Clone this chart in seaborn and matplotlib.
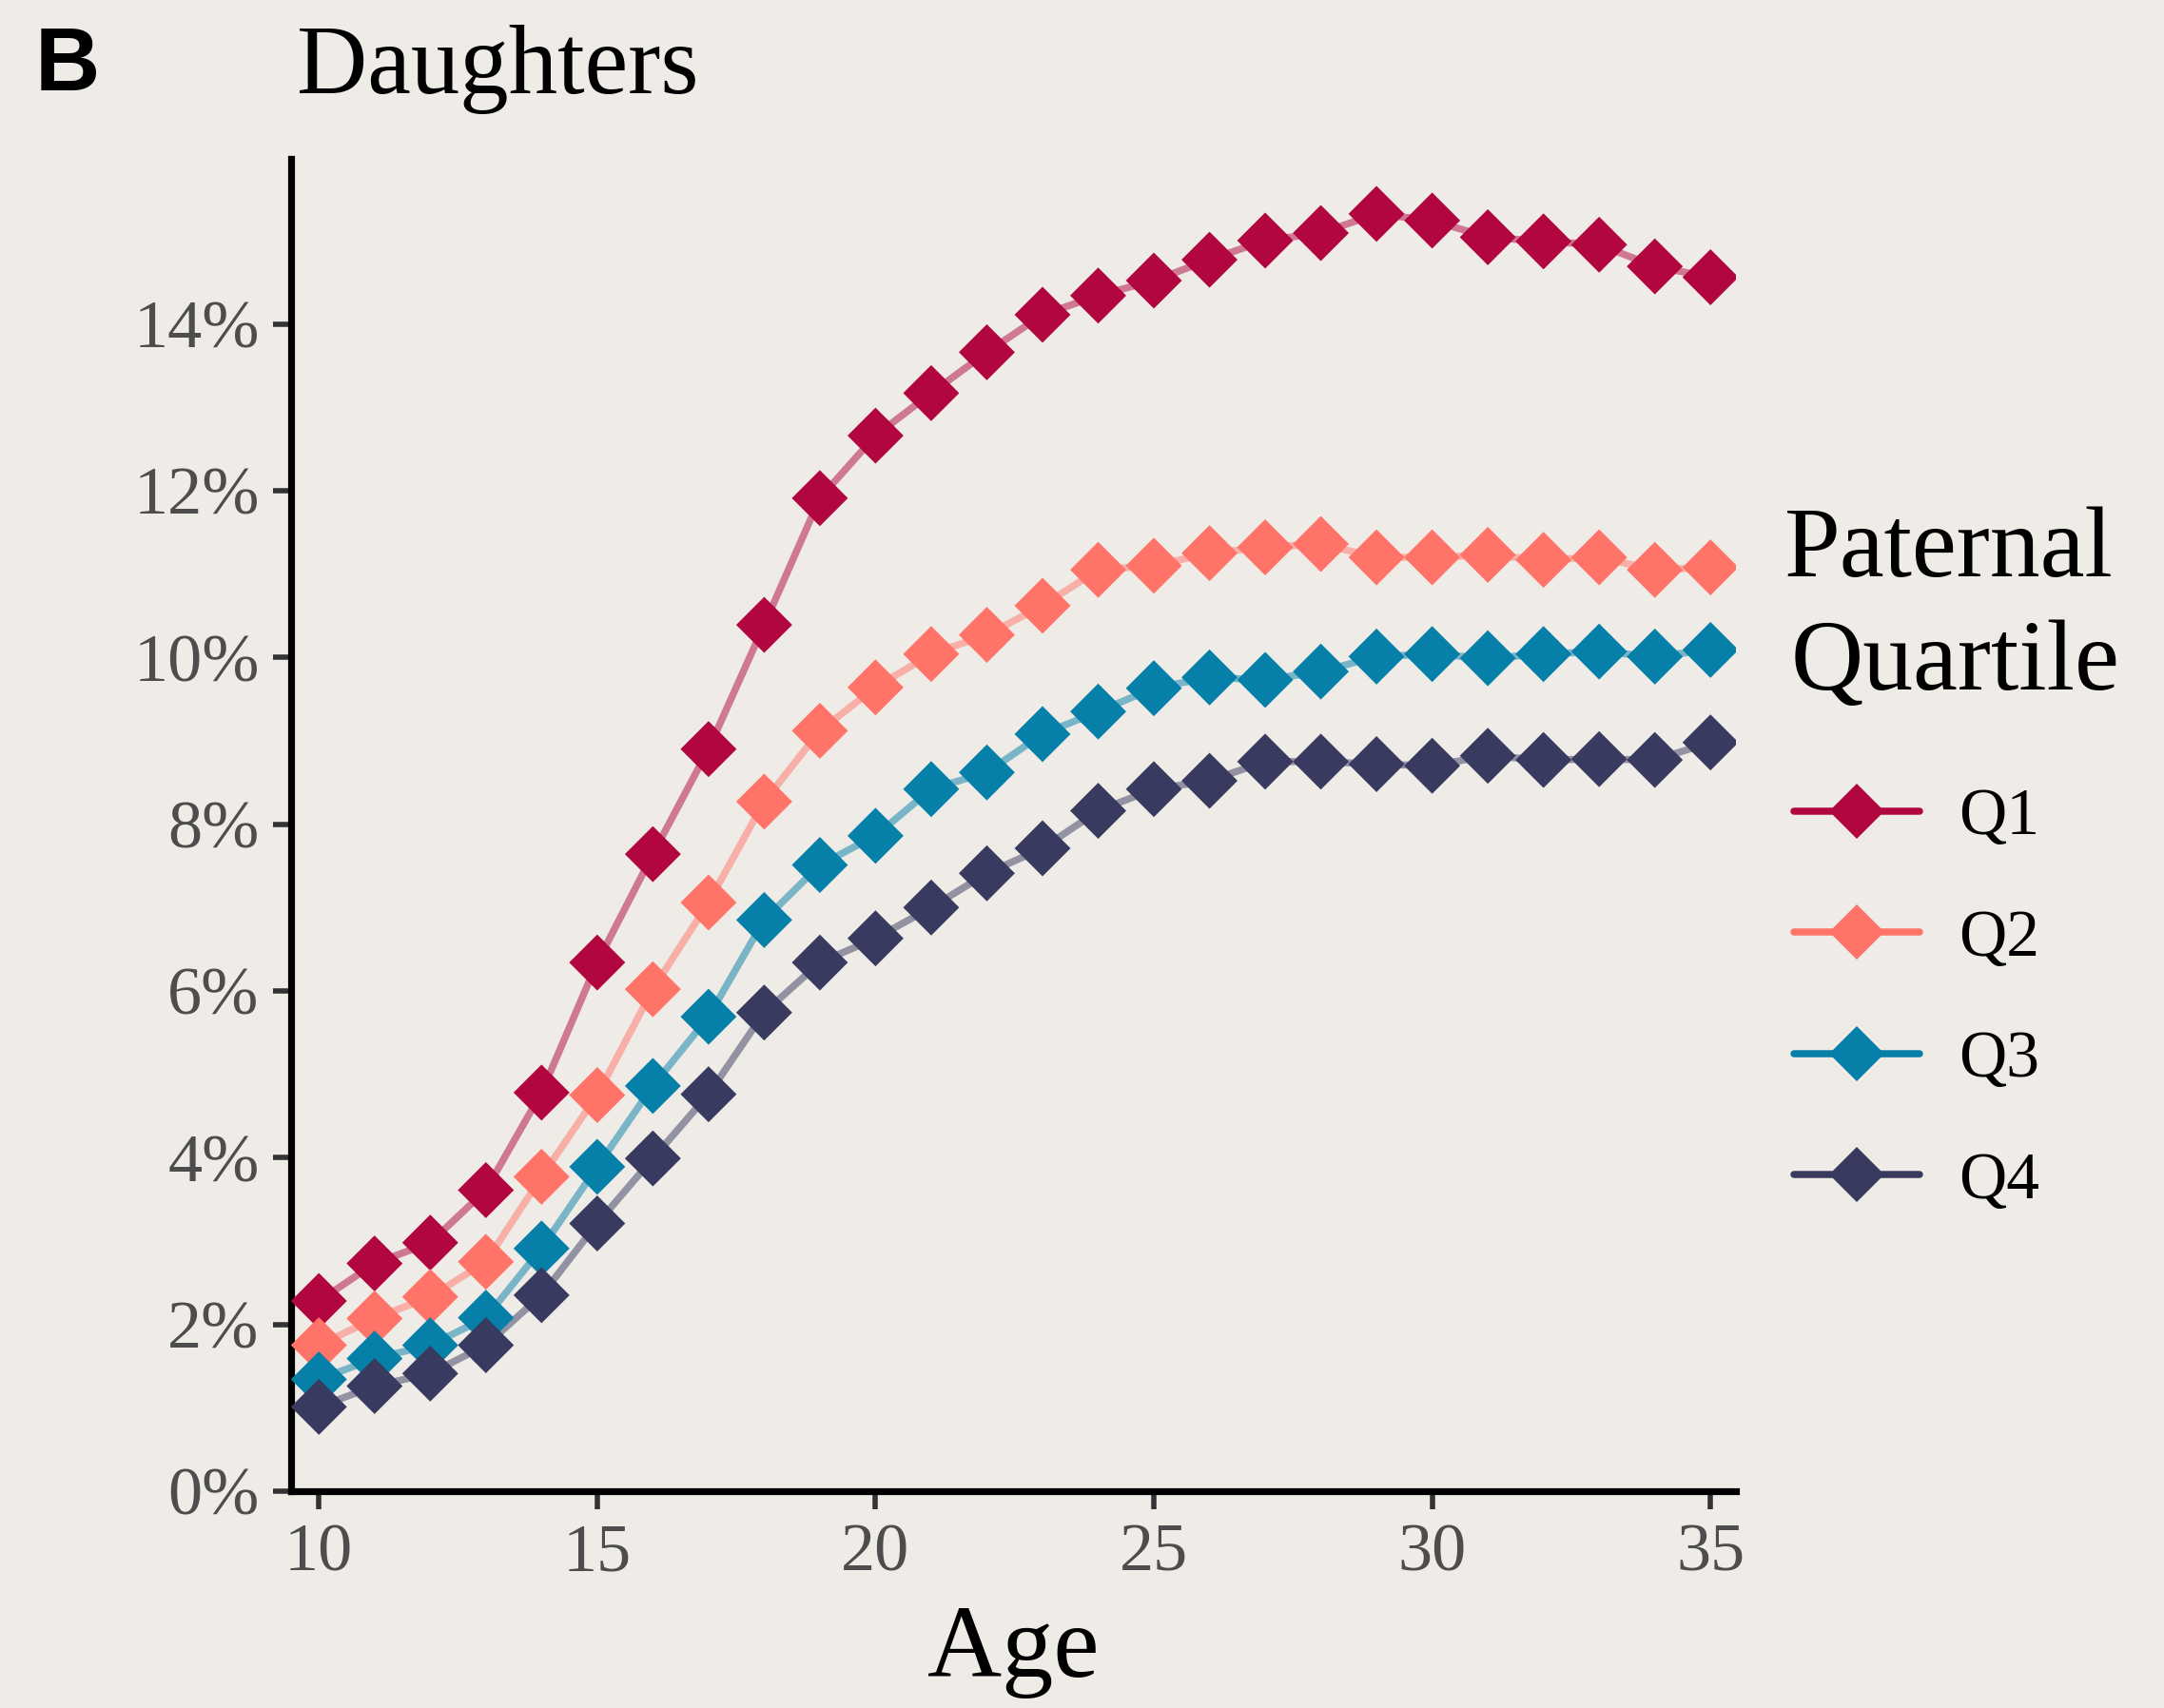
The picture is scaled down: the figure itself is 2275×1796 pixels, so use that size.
import matplotlib
matplotlib.use("Agg")
import matplotlib.pyplot as plt
from matplotlib.lines import Line2D
from matplotlib.ticker import FuncFormatter
import seaborn as sns
import pandas as pd

ages = list(range(10, 36))
q1 = [2.28, 2.73, 2.98, 3.61, 4.78, 6.34, 7.64, 8.90, 10.39, 11.91, 12.66, 13.17, 13.66,
      14.11, 14.34, 14.52, 14.77, 15.00, 15.09, 15.32, 15.24, 15.04, 14.99, 14.95, 14.69, 14.56]
q2 = [1.75, 2.07, 2.33, 2.75, 3.77, 4.75, 6.02, 7.06, 8.27, 9.12, 9.64, 10.04, 10.27,
      10.62, 11.05, 11.10, 11.25, 11.32, 11.36, 11.20, 11.20, 11.23, 11.17, 11.20, 11.05, 11.08]
q3 = [1.34, 1.59, 1.75, 2.08, 2.91, 3.89, 4.86, 5.69, 6.85, 7.51, 7.86, 8.42, 8.62,
      9.08, 9.35, 9.63, 9.76, 9.73, 9.83, 10.01, 10.04, 9.99, 10.04, 10.07, 10.01, 10.09]
q4 = [1.01, 1.26, 1.41, 1.75, 2.35, 3.21, 3.99, 4.76, 5.74, 6.34, 6.63, 7.00, 7.41,
      7.71, 8.16, 8.42, 8.52, 8.75, 8.75, 8.72, 8.70, 8.82, 8.77, 8.78, 8.77, 8.98]
quartiles = ["Q1", "Q2", "Q3", "Q4"]
colors = ["#B1063F", "#FF7368", "#0680A8", "#393A5F"]
y_ticks = [0, 2, 4, 6, 8, 10, 12, 14]
x_ticks = [10, 15, 20, 25, 30, 35]

df = pd.DataFrame({
    "Age": ages * 4,
    "Share": q1 + q2 + q3 + q4,
    "Quartile": sum([[q] * len(ages) for q in quartiles], []),
})

BG = "#EFECE7"
sns.set_style("ticks")
plt.rcParams["font.family"] = ["Liberation Serif", "DejaVu Serif"]

fig = plt.figure(figsize=(11.375, 8.98), dpi=200, facecolor=BG)
ax = fig.add_axes([0.1345, 0.127, 0.802 - 0.1345, 0.907 - 0.127])
ax.set_facecolor(BG)

palette = dict(zip(quartiles, colors))
sns.lineplot(data=df, x="Age", y="Share", hue="Quartile", palette=palette,
             linewidth=2.7, alpha=0.5, legend=False, ax=ax)
sns.scatterplot(data=df, x="Age", y="Share", hue="Quartile", palette=palette,
                marker="D", s=15 ** 2, linewidth=0, alpha=1, legend=False, ax=ax, zorder=3)

ax.set_xlim(9.5, 35.45)
ax.set_ylim(0, 15.98)
ax.set_xticks(x_ticks)
ax.set_yticks(y_ticks)
ax.yaxis.set_major_formatter(FuncFormatter(lambda v, p: f"{int(round(v))}%"))

for s in ["top", "right"]:
    ax.spines[s].set_visible(False)
for s in ["left", "bottom"]:
    ax.spines[s].set_linewidth(2.6)
    ax.spines[s].set_color("black")
ax.tick_params(axis="both", length=7, width=2, color="#333333",
               labelsize=26, labelcolor="#4D4D4D", pad=5)

ax.set_xlabel("Age", fontsize=39, color="black", labelpad=8)
ax.set_ylabel("")
ax.set_title("Daughters", loc="left", fontsize=37, color="black", pad=25, x=0.004)

fig.text(0.016, 0.9855, "B", fontsize=34, fontweight="bold", family="Liberation Sans",
         va="top", ha="left", color="black")

fig.text(0.8246, 0.6624, "Paternal", fontsize=38, color="black", ha="left", va="baseline")
fig.text(0.8275, 0.5961, "Quartile", fontsize=38, color="black", ha="left", va="baseline")

handles = [Line2D([0], [0], color=c, linewidth=2.7, marker="D", markersize=15,
                  markeredgewidth=0) for c in colors]
leg = ax.legend(handles, quartiles, loc="center left",
                bbox_to_anchor=(0.829, 0.4144), bbox_transform=fig.transFigure,
                frameon=False, fontsize=25, handlelength=1.9,
                handletextpad=0.6, labelspacing=0.92, borderpad=0, borderaxespad=0)
for t in leg.get_texts():
    t.set_color("black")

fig.savefig("out.png", dpi=200, facecolor=BG)
